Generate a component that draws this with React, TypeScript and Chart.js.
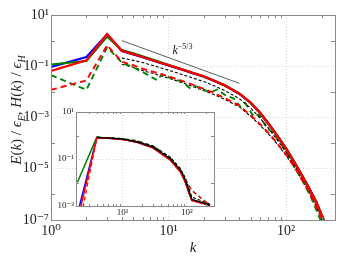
import React, { useEffect, useRef } from "react";
import { Chart, registerables } from "chart.js";
Chart.register(...registerables);

// ---------- main plot data ----------
const kMain = [1, 2, 3, 4, 5, 6, 8, 10, 13, 16, 20, 25, 30, 40, 50, 60, 70, 80, 100, 120, 150, 180, 210];
const redSolid = [0.066, 0.17, 1.8, 0.4, 0.3, 0.23, 0.15, 0.11, 0.075, 0.055, 0.04, 0.026, 0.018, 0.0085, 0.0037, 0.0015, 6.0e-4, 2.6e-4, 6.0e-5, 1.5e-5, 2.5e-6, 5.0e-7, 9.0e-8];
const blueSolid = [0.094, 0.23, 1.75, 0.39, 0.29, 0.225, 0.147, 0.108, 0.074, 0.054, 0.039, 0.0255, 0.0176, 0.0083, 0.0036, 0.00145, 5.8e-4, 2.5e-4, 5.8e-5, 1.45e-5, 2.4e-6, 4.8e-7, 8.7e-8];
const greenSolid = [0.117, 0.16, 1.45, 0.42, 0.32, 0.245, 0.158, 0.112, 0.076, 0.055, 0.04, 0.026, 0.018, 0.0086, 0.0037, 0.0015, 6.1e-4, 2.6e-4, 6.0e-5, 1.5e-5, 2.5e-6, 5.0e-7, 9.0e-8];
const blackSolid = [null, null, null, 0.43, 0.31, 0.235, 0.15, 0.108, 0.074, 0.054, 0.04, 0.026, 0.018, 0.0087, 0.0038, 0.0016, 6.5e-4, 2.8e-4, 6.5e-5, 1.6e-5, 2.7e-6, 5.5e-7, 1.0e-7];
const blackDashUpper = [null, null, null, 0.21, 0.17, 0.14, 0.095, 0.07, 0.048, 0.035, 0.025, 0.0165, 0.0113, 0.0054, 0.0023, 9.5e-4, 4.0e-4, 1.8e-4, 4.5e-5, 1.2e-5, 2.2e-6, 4.5e-7, 8.5e-8];
const redDash = [0.012, 0.028, 0.66, 0.15, 0.11, 0.08, 0.055, 0.04, 0.027, 0.019, 0.013, 0.0085, 0.0058, 0.0029, 0.0012, 5.5e-4, 2.6e-4, 1.3e-4, 3.5e-5, 1.0e-5, 1.8e-6, 3.5e-7, 7.0e-8];
const blackDashLower = [null, null, null, 0.12, 0.092, 0.068, 0.047, 0.034, 0.023, 0.0163, 0.0112, 0.0074, 0.0051, 0.0026, 0.0011, 5.0e-4, 2.4e-4, 1.2e-4, 3.3e-5, 9.5e-6, 1.7e-6, 3.3e-7, 6.5e-8];

const kGreenDash = [1, 2, 3, 4, 5, 6, 7, 8, 8.8, 10.7, 13, 15.3, 16.9, 19.2, 22.8, 25.8, 30.5, 35.8, 40.9, 45, 52.9, 58.5, 69, 76, 90, 110, 130, 160, 196];
const greenDash = [0.045, 0.012, 0.55, 0.14, 0.09, 0.06, 0.04, 0.0285, 0.048, 0.033, 0.025, 0.0135, 0.017, 0.013, 0.0095, 0.0124, 0.0074, 0.0055, 0.0026, 0.0036, 0.0011, 0.0013, 3.7e-4, 2.7e-4, 1.0e-4, 2.0e-5, 5.5e-6, 9.0e-7, 1.0e-7];

const kRef = [4, 40];
const refLine = [1.0, 0.0215];

const mainXTicks = [1, 10, 100];
const mainYTicks = [10, 0.1, 1e-3, 1e-5, 1e-7];

// ---------- inset data ----------
const kInset = [2, 4, 5, 7, 10, 17, 30, 55, 79, 94, 106, 119, 228];
const redSolidIn = [2.3e-4, 0.8, 0.78, 0.74, 0.68, 0.51, 0.29, 0.09, 0.028, 0.0105, 0.004, 0.0017, 0.00105];
const blueIn = [4.5e-4, 0.82, 0.79, 0.75, 0.69, 0.52, 0.3, 0.093, 0.029, 0.011, 0.0042, 0.0018, 0.0011];
const greenSolidIn = [0.0102, 0.85, 0.8, 0.76, 0.7, 0.53, 0.3, 0.095, 0.03, 0.011, 0.0042, 0.0018, 0.0011];
const blackSolidIn = [null, 0.83, 0.8, 0.76, 0.7, 0.54, 0.32, 0.105, 0.034, 0.013, 0.005, 0.0019, 0.0011];
const blackDashIn = [null, 0.84, 0.82, 0.78, 0.72, 0.57, 0.35, 0.12, 0.04, 0.016, 0.0065, 0.0024, 0.0012];
const redDashIn = [6e-5, 0.8, 0.78, 0.74, 0.69, 0.53, 0.31, 0.1, 0.033, 0.013, 0.0075, 0.0047, 0.00105];
const greenDashIn = [null, 0.84, 0.82, 0.79, 0.74, 0.6, 0.36, 0.115, 0.037, 0.015, 0.008, 0.0045, 0.0011];

const insetXTicks = [10, 100];
const insetYTicks = [10, 0.1, 1e-3];

// ---------- helpers ----------
const FAM = '"Liberation Serif", "DejaVu Serif", serif';
const SUP: Record<string, string> = { "-": "⁻", "0": "⁰", "1": "¹", "2": "²", "3": "³", "4": "⁴", "5": "⁵", "6": "⁶", "7": "⁷", "8": "⁸", "9": "⁹" };
const powLabel = (v: number) => "10" + String(Math.round(Math.log10(v))).split("").map((c) => SUP[c] || c).join("");

const pts = (ks: number[], vs: (number | null)[]) =>
  ks.map((k, i) => ({ x: k, y: vs[i] })).filter((p) => p.y !== null) as { x: number; y: number }[];

type Seg = { t: string; it?: boolean; sub?: boolean; sup?: boolean };
function drawRich(ctx: CanvasRenderingContext2D, segs: Seg[], x: number, y: number, size: number, align: "center" | "left") {
  const fontOf = (s: Seg) => `${s.it ? "italic " : ""}${s.sub || s.sup ? Math.round(size * 0.68) : size}px ${FAM}`;
  let total = 0;
  const ws = segs.map((s) => {
    ctx.font = fontOf(s);
    const w = ctx.measureText(s.t).width;
    total += w;
    return w;
  });
  let cx = align === "center" ? x - total / 2 : x;
  ctx.textBaseline = "alphabetic";
  ctx.textAlign = "left";
  segs.forEach((s, i) => {
    ctx.font = fontOf(s);
    const dy = s.sub ? size * 0.28 : s.sup ? -size * 0.42 : 0;
    ctx.fillText(s.t, cx, y + dy);
    cx += ws[i];
  });
}

const makeFrame = (minorX: number[], yTickVals: number[], len: number) => ({
  id: "frameTicks",
  afterDraw(chart: any) {
    const { ctx, chartArea } = chart;
    const { left, right, top, bottom } = chartArea;
    const xs = chart.scales.x;
    const ys = chart.scales.y;
    ctx.save();
    ctx.strokeStyle = "#8a8a8a";
    ctx.lineWidth = 1;
    ctx.beginPath();
    for (const k of minorX) {
      const px = Math.round(xs.getPixelForValue(k)) + 0.5;
      if (px <= left + 1 || px >= right - 1) continue;
      ctx.moveTo(px, bottom);
      ctx.lineTo(px, bottom - len);
      ctx.moveTo(px, top);
      ctx.lineTo(px, top + len);
    }
    for (const v of yTickVals) {
      const py = Math.round(ys.getPixelForValue(v)) + 0.5;
      if (py <= top + 1 || py >= bottom - 1) continue;
      ctx.moveTo(left, py);
      ctx.lineTo(left + len + 1, py);
      ctx.moveTo(right, py);
      ctx.lineTo(right - len - 1, py);
    }
    ctx.stroke();
    ctx.strokeRect(Math.round(left) + 0.5, Math.round(top) + 0.5, Math.round(right - left), Math.round(bottom - top));
    ctx.restore();
  },
});

const minorMain = [2, 3, 4, 5, 6, 7, 8, 9, 20, 30, 40, 50, 60, 70, 80, 90, 200];
const decadesMain = [1, 0.01, 1e-4, 1e-6];
const minorInset = [3, 4, 5, 6, 7, 8, 9, 20, 30, 40, 50, 60, 70, 80, 90, 200];
const decadesInset = [1, 0.01];

const mainLabels = {
  id: "mainLabels",
  afterDraw(chart: any) {
    const { ctx, chartArea } = chart;
    const xs = chart.scales.x;
    const ys = chart.scales.y;
    ctx.save();
    ctx.fillStyle = "#222";
    // x title
    drawRich(ctx, [{ t: "k", it: true }], (chartArea.left + chartArea.right) / 2, 252, 15, "center");
    ctx.restore();
    // y title
    ctx.save();
    ctx.fillStyle = "#222";
    ctx.translate(21, 110);
    ctx.rotate(-Math.PI / 2);
    drawRich(
      ctx,
      [
        { t: "E", it: true }, { t: "(" }, { t: "k", it: true }, { t: ")" }, { t: " / " },
        { t: "ϵ", it: true }, { t: "E", it: true, sub: true }, { t: ", " },
        { t: "H", it: true }, { t: "(" }, { t: "k", it: true }, { t: ")" }, { t: " / " },
        { t: "ϵ", it: true }, { t: "H", it: true, sub: true },
      ],
      0, 0, 15, "center"
    );
    ctx.restore();
    // slope annotation
    ctx.save();
    ctx.fillStyle = "#222";
    drawRich(ctx, [{ t: "k", it: true }, { t: "−5/3", sup: true }], xs.getPixelForValue(10.8), ys.getPixelForValue(0.3), 12, "left");
    ctx.restore();
  },
};

const insetBg = {
  id: "insetBg",
  beforeDraw(chart: any) {
    const { ctx, chartArea } = chart;
    ctx.save();
    ctx.fillStyle = "#fff";
    ctx.fillRect(chartArea.left, chartArea.top, chartArea.right - chartArea.left, chartArea.bottom - chartArea.top);
    ctx.restore();
  },
};

const ds = (data: any, color: string, width: number, dash: number[] = []) => ({
  data,
  borderColor: color,
  backgroundColor: color,
  borderWidth: width,
  borderDash: dash,
  pointRadius: 0,
  fill: false,
  tension: 0,
  spanGaps: true,
});

const RED = "#ff0000";
const BLUE = "#0000ff";
const GREEN = "#008000";
const BLACK = "#000000";

export default function App() {
  const mainRef = useRef<HTMLCanvasElement>(null);
  const insetRef = useRef<HTMLCanvasElement>(null);

  useEffect(() => {
    const gridCol = "#d4d4d4";
    const main = new Chart(mainRef.current!, {
      type: "line",
      data: {
        datasets: [
          ds(pts(kMain, redSolid), RED, 2.3),
          ds(pts(kMain, blackDashUpper), BLACK, 1.1, [3, 2]),
          ds(pts(kMain, redDash), RED, 1.9, [6, 4]),
          ds(pts(kGreenDash, greenDash), GREEN, 1.9, [6, 4]),
          ds(pts(kMain, blackDashLower), BLACK, 1.1, [3, 2]),
          ds(pts(kMain, blackSolid), BLACK, 1.6),
          ds(pts(kMain, greenSolid), GREEN, 2.2),
          ds(pts(kMain, blueSolid), BLUE, 2.2),
          ds(pts(kRef, refLine), "#333", 0.8),
        ] as any,
      },
      options: {
        animation: false,
        responsive: false,
        maintainAspectRatio: false,
        layout: { padding: { left: 0, top: 15, right: 10, bottom: 0 } },
        plugins: { legend: { display: false }, tooltip: { enabled: false } },
        scales: {
          x: {
            type: "logarithmic",
            min: 1,
            max: 260,
            afterBuildTicks: (s: any) => { s.ticks = mainXTicks.map((v) => ({ value: v })); },
            afterFit: (s: any) => { s.height = 45; },
            ticks: { callback: (v: any) => powLabel(Number(v)), font: { family: FAM, size: 14 }, color: "#222", padding: 3, maxRotation: 0, autoSkip: false },
            grid: { color: (c: any) => (c.tick && (c.tick.value === 10 || c.tick.value === 100) ? gridCol : "rgba(0,0,0,0)"), drawTicks: false, lineWidth: 1 },
            border: { display: false, dash: [1, 2] },
          },
          y: {
            type: "logarithmic",
            min: 1e-7,
            max: 10,
            afterBuildTicks: (s: any) => { s.ticks = mainYTicks.map((v) => ({ value: v })); },
            afterFit: (s: any) => { s.width = 51; },
            ticks: { callback: (v: any) => powLabel(Number(v)), font: { family: FAM, size: 14 }, color: "#222", padding: 2, autoSkip: false },
            grid: { color: (c: any) => (c.tick && [0.1, 1e-3, 1e-5].some((t) => Math.abs(c.tick.value - t) < t * 1e-6) ? gridCol : "rgba(0,0,0,0)"), drawTicks: false, lineWidth: 1 },
            border: { display: false, dash: [1, 2] },
          },
        },
      } as any,
      plugins: [makeFrame(minorMain, decadesMain, 3), mainLabels],
    });

    const inset = new Chart(insetRef.current!, {
      type: "line",
      data: {
        datasets: [
          ds(pts(kInset, blackSolidIn), BLACK, 1.3),
          ds(pts(kInset, redSolidIn), RED, 1.5),
          ds(pts(kInset, redDashIn), RED, 1.3, [4, 3]),
          ds(pts(kInset, blackDashIn), BLACK, 1.1, [3, 2]),
          ds(pts(kInset, greenDashIn), GREEN, 1.3, [4, 3]),
          ds(pts(kInset, greenSolidIn), GREEN, 1.5),
          ds(pts(kInset, blueIn), BLUE, 1.5),
        ] as any,
      },
      options: {
        animation: false,
        responsive: false,
        maintainAspectRatio: false,
        layout: { padding: { left: 0, top: 8, right: 6, bottom: 0 } },
        plugins: { legend: { display: false }, tooltip: { enabled: false } },
        scales: {
          x: {
            type: "logarithmic",
            min: 1.9,
            max: 263,
            afterBuildTicks: (s: any) => { s.ticks = insetXTicks.map((v) => ({ value: v })); },
            afterFit: (s: any) => { s.height = 16; },
            ticks: { callback: (v: any) => powLabel(Number(v)), font: { family: FAM, size: 9 }, color: "#222", padding: 1, maxRotation: 0, autoSkip: false },
            grid: { color: gridCol, drawTicks: false, lineWidth: 1 },
            border: { display: false, dash: [1, 2] },
          },
          y: {
            type: "logarithmic",
            min: 1e-3,
            max: 10,
            afterBuildTicks: (s: any) => { s.ticks = insetYTicks.map((v) => ({ value: v })); },
            afterFit: (s: any) => { s.width = 26; },
            ticks: { callback: (v: any) => powLabel(Number(v)), font: { family: FAM, size: 9 }, color: "#222", padding: 2, autoSkip: false },
            grid: { color: (c: any) => (c.tick && Math.abs(c.tick.value - 0.1) < 1e-7 ? gridCol : "rgba(0,0,0,0)"), drawTicks: false, lineWidth: 1 },
            border: { display: false, dash: [1, 2] },
          },
        },
      } as any,
      plugins: [insetBg, makeFrame(minorInset, decadesInset, 2)],
    });

    return () => {
      main.destroy();
      inset.destroy();
    };
  }, []);

  return (
    <div style={{ position: "fixed", left: 0, top: 0, width: 345, height: 265, background: "#fff" }}>
      <canvas ref={mainRef} width={345} height={265} style={{ position: "absolute", left: 0, top: 0, width: 345, height: 265 }} />
      <canvas ref={insetRef} width={170} height={118} style={{ position: "absolute", left: 50, top: 104, width: 170, height: 118 }} />
    </div>
  );
}
